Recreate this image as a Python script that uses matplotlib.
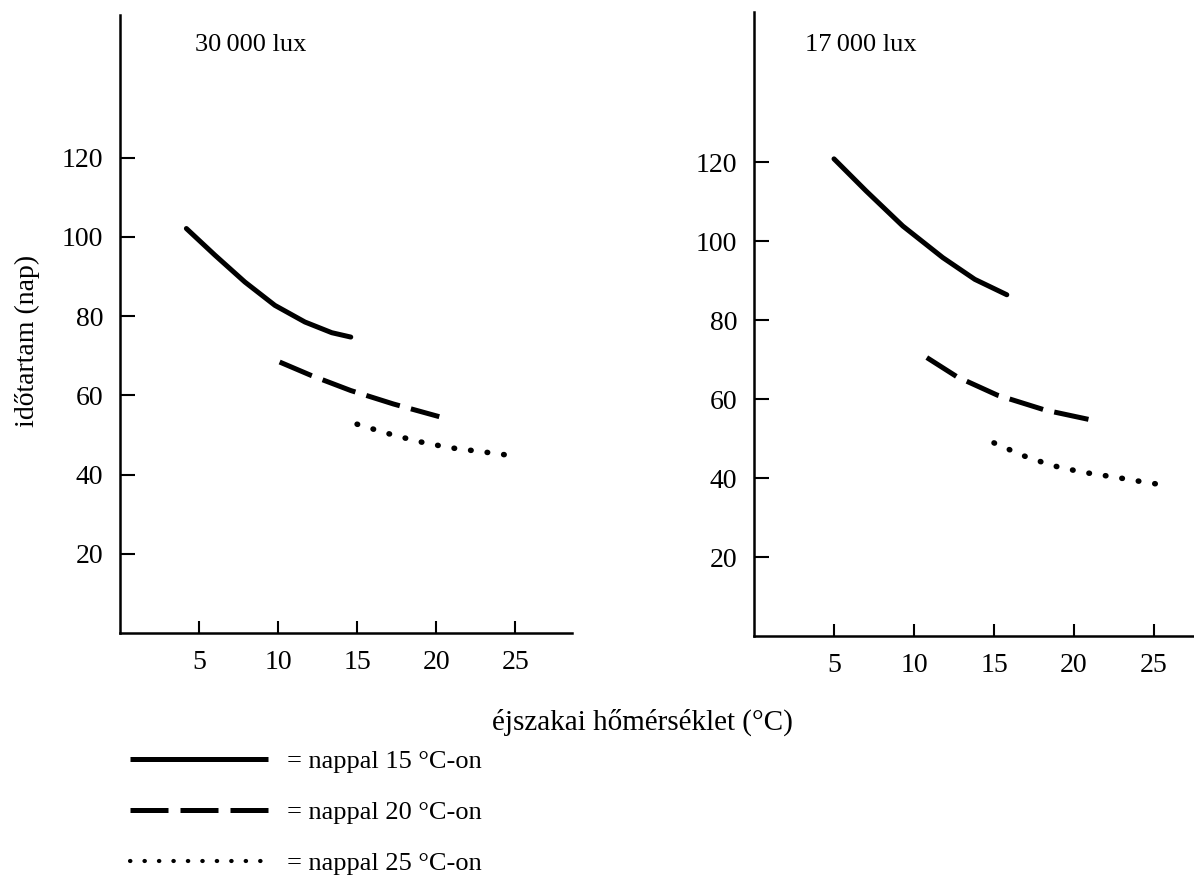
import matplotlib.pyplot as plt
from matplotlib.lines import Line2D

plt.rcParams["font.family"] = ["Liberation Serif", "DejaVu Serif"]

# night temperature (°C) vs. duration (days), one series per day temperature
# 30 000 lux
hi_day15_x = [4.2, 6.0, 7.9, 9.8, 11.7, 13.4, 14.6]
hi_day15_y = [102.1, 95.4, 88.6, 82.7, 78.5, 75.8, 74.7]
hi_day20_x = [10.1, 12.1, 14.6, 17.3, 20.2]
hi_day20_y = [68.4, 65.0, 61.2, 57.8, 54.6]
hi_day25_x = [15.0, 16.9, 18.8, 20.8, 23.0, 25.1]
hi_day25_y = [52.7, 50.4, 48.4, 46.8, 45.7, 44.6]

# 17 000 lux
lo_day15_x = [5.0, 7.0, 9.3, 11.8, 13.8, 15.8]
lo_day15_y = [120.8, 112.7, 103.8, 95.8, 90.3, 86.4]
lo_day20_x = [10.8, 12.7, 15.2, 18.2, 21.2]
lo_day20_y = [70.5, 65.6, 61.0, 57.2, 54.6]
lo_day25_x = [15.0, 16.8, 18.6, 20.5, 22.6, 24.5, 25.5]
lo_day25_y = [48.9, 45.7, 43.2, 41.5, 40.2, 38.9, 38.3]

panel_titles = ["30\u2009000 lux", "17\u2009000 lux"]
legend_labels = ["= nappal 15 °C-on", "= nappal 20 °C-on", "= nappal 25 °C-on"]
x_ticks = [5, 10, 15, 20, 25]
y_ticks = [20, 40, 60, 80, 100, 120]

styles = [
    dict(color="black", lw=3.6, linestyle="-", solid_capstyle="round"),
    dict(color="black", lw=3.6, linestyle=(0, (7.0, 2.3)), dash_capstyle="butt"),
    dict(color="black", lw=4.0, linestyle=(0, (0.1, 2.9)), dash_capstyle="round"),
]

fig = plt.figure(figsize=(11.94, 8.84), dpi=100)
ax1 = fig.add_axes([0.1005, 0.284, 0.3786, 0.699])
ax2 = fig.add_axes([0.6315, 0.2805, 0.3685, 0.706])

panels = [
    (ax1, [(hi_day15_x, hi_day15_y), (hi_day20_x, hi_day20_y), (hi_day25_x, hi_day25_y)], 28.6, 156),
    (ax2, [(lo_day15_x, lo_day15_y), (lo_day20_x, lo_day20_y), (lo_day25_x, lo_day25_y)], 27.5, 158),
]

for ax, series, xmax, ymax in panels:
    for (xs, ys), st in zip(series, styles):
        ax.plot(xs, ys, **st)
    ax.set_xlim(0, xmax)
    ax.set_ylim(0, ymax)
    ax.set_xticks(x_ticks)
    ax.set_yticks(y_ticks)
    for side in ("top", "right"):
        ax.spines[side].set_visible(False)
    for side in ("left", "bottom"):
        ax.spines[side].set_linewidth(1.8)
    ax.tick_params(axis="y", direction="in", length=11, width=1.5, labelsize=20, pad=12)
    ax.tick_params(axis="x", direction="in", length=9, width=1.5, labelsize=20, pad=12)

fig.text(27 / 1194, 1 - 341 / 884, "időtartam (nap)", fontsize=20, rotation=90,
         va="center", ha="center")
fig.text(195 / 1194, 1 - 45 / 884, panel_titles[0], fontsize=19, va="center", ha="left")
fig.text(805 / 1194, 1 - 45 / 884, panel_titles[1], fontsize=19, va="center", ha="left")
fig.text(642 / 1194, 1 - 722 / 884, "éjszakai hőmérséklet (°C)", fontsize=21,
         va="center", ha="center")

# legend samples sized so the dashed one shows three whole dashes
legend_handles = [
    Line2D([], [], color="black", lw=3.6, linestyle="-", solid_capstyle="butt"),
    Line2D([], [], color="black", lw=3.6, linestyle=(0, (7.6, 2.4)), dash_capstyle="butt"),
    Line2D([], [], color="black", lw=3.0, linestyle=(0, (0.1, 3.37)), dash_capstyle="round"),
]
fig.legend(legend_handles, legend_labels, loc="upper left",
           bbox_to_anchor=(119 / 1194, 1 - 739 / 884), frameon=False,
           fontsize=19, handlelength=5.24, handletextpad=0.72, labelspacing=1.05,
           borderaxespad=0)

fig.savefig("out.png", dpi=100)
